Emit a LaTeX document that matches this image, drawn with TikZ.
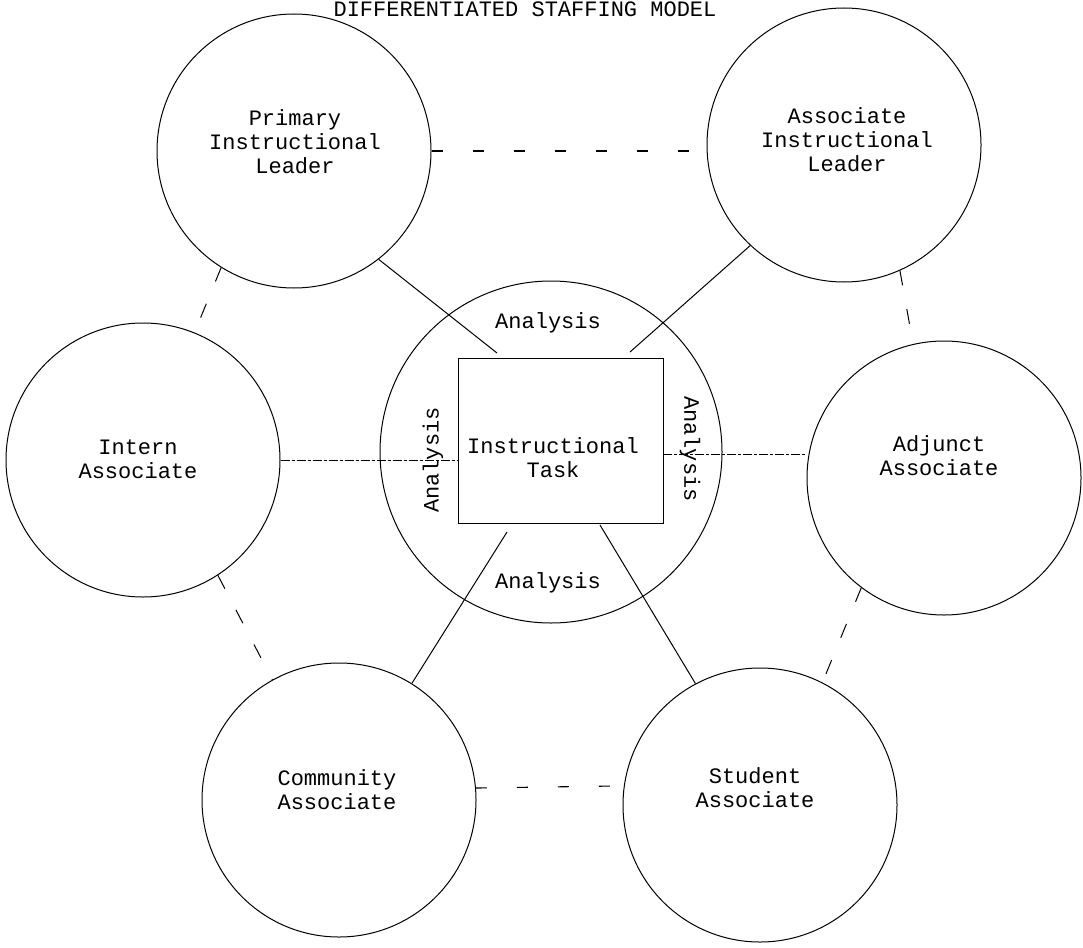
\documentclass[tikz,border=0pt]{standalone}
\usepackage{fontspec}
\setmainfont{Liberation Mono}
\begin{document}
\begin{tikzpicture}[x=1pt,y=-1pt,
  every node/.style={font=\fontsize{22}{24}\selectfont},
  role/.style={circle,draw,line width=1pt,minimum size=274pt,inner sep=0pt},
  lbl/.style={align=center,inner sep=0pt},
  link/.style={line width=1pt},
  peer/.style={line width=1.1pt,dash pattern=on 11pt off 30pt},
  side/.style={line width=1pt,dash pattern=on 15pt off 24pt},
  axis/.style={line width=0.7pt,dash pattern=on 9pt off 2pt on 3pt off 2pt}]
\useasboundingbox (0,0) rectangle (1083,947);

% title
\node[lbl,anchor=base] (title) at (525,17) {DIFFERENTIATED STAFFING MODEL};

% central task and the analysis ring
\node[circle,draw,line width=1pt,minimum size=342pt,inner sep=0pt] (hub) at (551,452) {};
\node[draw,line width=1pt,minimum width=205pt,minimum height=165pt,inner sep=0pt] (task) at (560.5,440.5) {};
\node[lbl] (tasklbl) at (553,458) {Instructional\\Task};
\node[lbl] (antop) at (548,323) {Analysis};
\node[lbl] (anbot) at (548,583) {Analysis};
\node[lbl,rotate=90] (anleft) at (433,460) {Analysis};
\node[lbl,rotate=-90] (anright) at (690,449) {Analysis};

% staff roles
\node[role] (prim) at (294,151) {};
\node[lbl] (primlbl) at (295,142) {Primary\\Instructional\\Leader};
\node[role] (assoc) at (844,145) {};
\node[lbl] (assoclbl) at (847,140) {Associate\\Instructional\\Leader};
\node[role] (intern) at (143,460) {};
\node[lbl] (internlbl) at (138,459) {Intern\\Associate};
\node[role] (adj) at (944,478) {};
\node[lbl] (adjlbl) at (939,456) {Adjunct\\Associate};
\node[role] (comm) at (339,800) {};
\node[lbl] (commlbl) at (337,790) {Community\\Associate};
\node[role] (stud) at (760,805) {};
\node[lbl] (studlbl) at (755,788) {Student\\Associate};

% ends of the links at the task box
\coordinate (tpl) at (497,353);
\coordinate (tpr) at (630,352);
\coordinate (tbl) at (507,532);
\coordinate (tbr) at (600,525);
\coordinate (tmr) at (663,454);

% solid links to the task
\draw[link] (prim.-52) -- (tpl);
\draw[link] (assoc.-133) -- (tpr);
\draw[link] (comm.58) -- (tbl);
\draw[link] (stud.118) -- (tbr);
\draw[axis] (intern.east) -- (intern.east -| task.west);
\draw[axis] (tmr) -- (tmr -| adj.west);

% dashed links between neighbouring roles
\draw[peer] (prim.east) -- (prim.east -| assoc.west);
\draw[peer] (comm.5) -- (stud.172);
\draw[side] (prim.-122) -- (intern.68);
\draw[side] (intern.-57) -- (comm.119);
\draw[side] (assoc.-66) -- (adj.103);
\draw[side] (adj.-127) -- (stud.63);
\end{tikzpicture}
\end{document}
